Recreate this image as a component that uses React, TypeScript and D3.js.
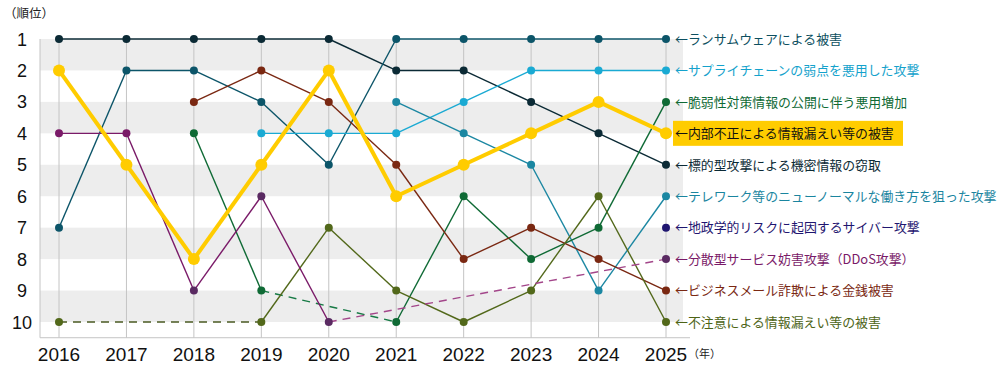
import React from "react";
import * as d3 from "d3";

const years = [2016, 2017, 2018, 2019, 2020, 2021, 2022, 2023, 2024, 2025];
const rankTicks = [1, 2, 3, 4, 5, 6, 7, 8, 9, 10];

const ransomware = [7, 2, 2, 3, 5, 1, 1, 1, 1, 1];
const supplyChain = [null, null, null, 4, 4, 4, 3, 2, 2, 2];
const vulnerability = [null, null, 4, 9, null, 10, 6, 8, 7, 3];
const insider = [2, 5, 8, 5, 2, 6, 5, 4, 3, 4];
const targeted = [1, 1, 1, 1, 1, 2, 2, 3, 4, 5];
const telework = [null, null, null, null, null, 3, 4, 5, 9, 6];
const geopolitical = [null, null, null, null, null, null, null, null, null, 7];
const ddos = [4, 4, 9, 6, 10, null, null, null, null, 8];
const bec = [null, null, 3, 2, 3, 5, 8, 7, 8, 9];
const carelessness = [10, null, null, 10, 7, 9, 10, 9, 6, 10];

const labels = [
  "←ランサムウェアによる被害",
  "←サプライチェーンの弱点を悪用した攻撃",
  "←脆弱性対策情報の公開に伴う悪用増加",
  "←内部不正による情報漏えい等の被害",
  "←標的型攻撃による機密情報の窃取",
  "←テレワーク等のニューノーマルな働き方を狙った攻撃",
  "←地政学的リスクに起因するサイバー攻撃",
  "←分散型サービス妨害攻撃（DDoS攻撃）",
  "←ビジネスメール詐欺による金銭被害",
  "←不注意による情報漏えい等の被害",
];

type S = { values: (number | null)[]; color: string; dash: string; label: string; text: string; thick?: boolean };

const series: S[] = [
  { values: targeted, color: "#0b2a35", dash: "#0b2a35", label: labels[4], text: "#0b2a35" },
  { values: ransomware, color: "#0c5569", dash: "#0c5569", label: labels[0], text: "#0c4f60" },
  { values: supplyChain, color: "#1aaad3", dash: "#1aaad3", label: labels[1], text: "#14a2cc" },
  { values: telework, color: "#1b87a2", dash: "#1b87a2", label: labels[5], text: "#1a859f" },
  { values: vulnerability, color: "#0f6a35", dash: "#177a45", label: labels[2], text: "#0f6a35" },
  { values: bec, color: "#7a2812", dash: "#7a2812", label: labels[8], text: "#7a2812" },
  { values: carelessness, color: "#52681a", dash: "#4a5a22", label: labels[9], text: "#4d6416" },
  { values: ddos, color: "#7a1a68", dash: "#a3468a", label: labels[7], text: "#7a1a68" },
  { values: geopolitical, color: "#1f1670", dash: "#1f1670", label: labels[6], text: "#1f1670" },
  { values: insider, color: "#ffcc00", dash: "#ffcc00", label: labels[3], text: "#111111", thick: true },
];

const pointColors: Record<string, string> = {
  "#7a1a68": "#5a2a62",
};

export default function App() {
  const W = 1000, H = 380;
  const x = d3.scalePoint<number>().domain(years).range([59, 666]);
  const y = d3.scaleLinear().domain([1, 10]).range([39, 322]);
  const step = y(2) - y(1);
  const left = 40, right = 683, top = y(1), bottom = y(10.5);

  return (
    <svg width={W} height={H} style={{ position: "absolute", left: 0, top: 0, fontFamily: "'Liberation Sans', Arial, sans-serif" }}>
      <rect width={W} height={H} fill="#fff" />
      {[1, 3, 5, 7, 9].map((r) => (
        <rect key={r} x={left} y={y(r)} width={right - left} height={step} fill="#ededed" />
      ))}
      {years.map((yr) => (
        <line key={yr} x1={x(yr)} x2={x(yr)} y1={top} y2={bottom} stroke="#c4c4c4" strokeWidth={1} />
      ))}
      <line x1={left} x2={left} y1={top} y2={bottom} stroke="#c4c4c4" />
      <line x1={left} x2={690} y1={bottom} y2={bottom} stroke="#c4c4c4" />
      {rankTicks.map((r) => (
        <text key={r} x={22} y={y(r) + 6.5} textAnchor="middle" fontSize={18} fill="#111">{r}</text>
      ))}
      <text x={4} y={18} fontSize={12.5} fill="#222" fontFamily="'Noto Sans CJK JP', sans-serif">（順位）</text>
      {years.map((yr) => (
        <text key={yr} x={x(yr)} y={361} textAnchor="middle" fontSize={19} fill="#111">{yr}</text>
      ))}
      <text x={688} y={358} fontSize={11} fill="#222" fontFamily="'Noto Sans CJK JP', sans-serif">（年）</text>
      {series.map((s, si) => {
        const pts = years.map((yr, i) => ({ yr, v: s.values[i] })).filter((d) => d.v != null) as { yr: number; v: number }[];
        const segs: React.ReactNode[] = [];
        for (let i = 1; i < pts.length; i++) {
          const a = pts[i - 1], b = pts[i];
          const gap = years.indexOf(b.yr) - years.indexOf(a.yr) > 1;
          const path = d3.line<{ yr: number; v: number }>().x((d) => x(d.yr)!).y((d) => y(d.v))([a, b]);
          segs.push(
            <path key={i} d={path!} fill="none" stroke={gap ? s.dash : s.color} strokeWidth={s.thick ? 4 : 1.4}
              strokeDasharray={gap ? "8,6" : undefined} />
          );
        }
        return (
          <g key={si}>
            {segs}
            {pts.map((p, j) => (
              <circle key={j} cx={x(p.yr)} cy={y(p.v)} r={s.thick ? 6 : 4} fill={pointColors[s.color] && (p.yr === 2018 || p.yr === 2019 || p.yr === 2020 || p.yr === 2025) ? pointColors[s.color] : s.color} />
            ))}
          </g>
        );
      })}
      <rect x={673} y={y(4) - 12.5} width={230} height={25} fill="#ffcc00" />
      {series.map((s, si) => {
        const last = s.values[s.values.length - 1] as number;
        return (
          <text key={si} x={675} y={y(last) + 4.8} fontSize={12.9} fill={s.text} fontFamily="'Noto Sans CJK JP', sans-serif">{s.label}</text>
        );
      })}
    </svg>
  );
}
